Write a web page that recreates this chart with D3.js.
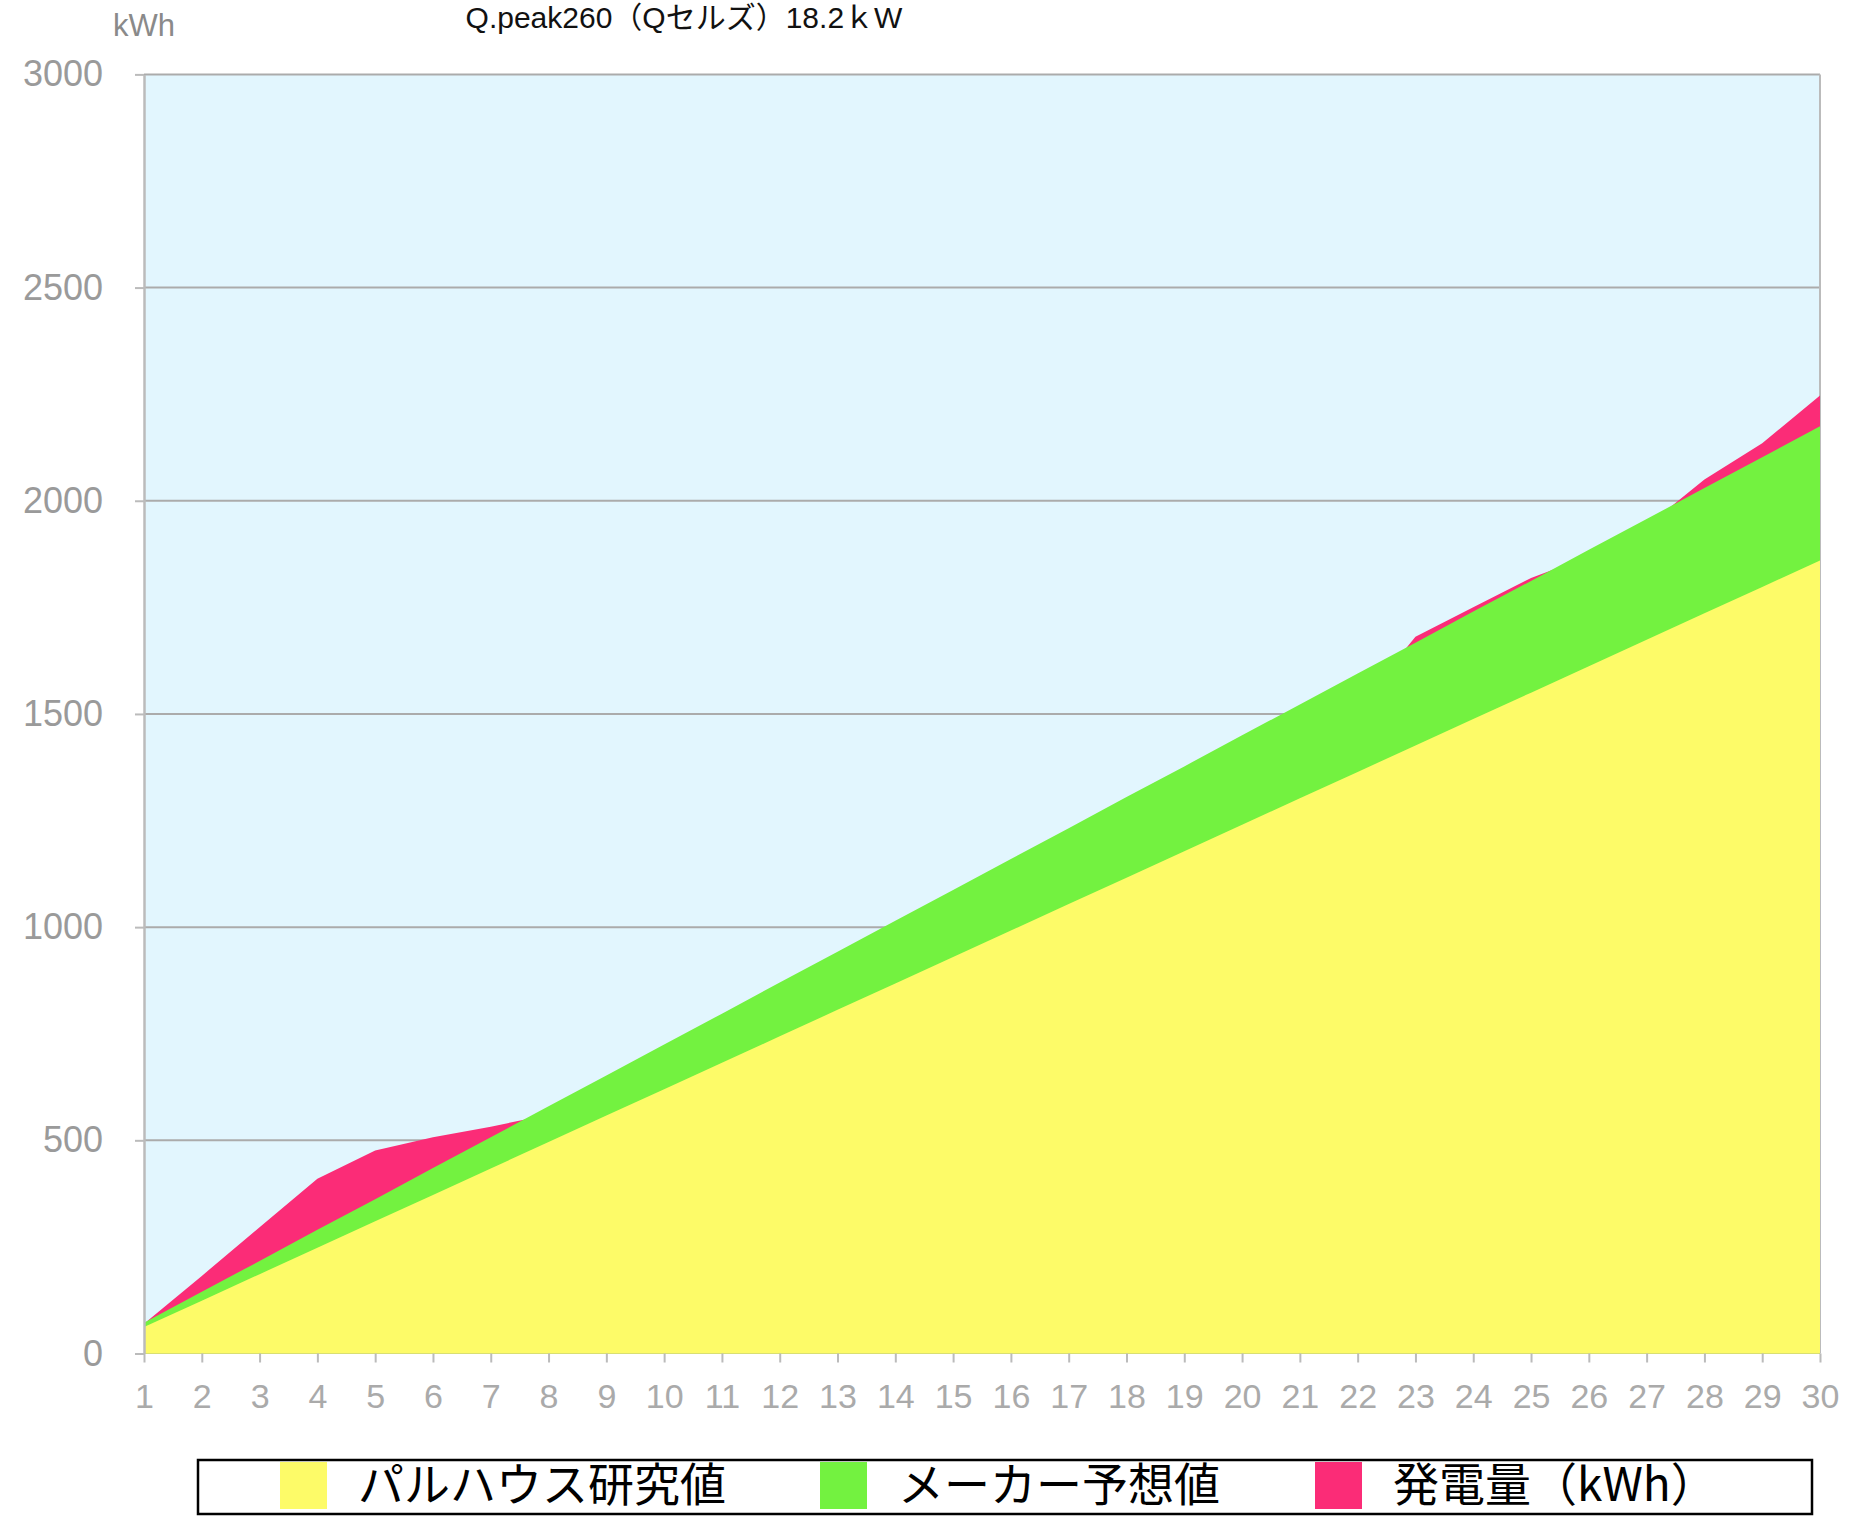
<!DOCTYPE html>
<html>
<head>
<meta charset="utf-8">
<script src="https://cdn.jsdelivr.net/npm/d3@7"></script>
<style>
  body { margin: 0; background: #fff; }
  svg { display: block; }
</style>
</head>
<body>
<div class="grafico"></div>
<script>
// datos (kWh acumulados por dia)
const dias = [1,2,3,4,5,6,7,8,9,10,11,12,13,14,15,16,17,18,19,20,21,22,23,24,25,26,27,28,29,30];
const palhouse = [62,124,186,248,310,372,434,496,558,620,682,744,806,868,930,992,1054,1116,1178,1240,1302,1364,1426,1488,1550,1612,1674,1736,1798,1860];
const maker = [72,145,217,290,362,435,507,580,652,725,797,870,942,1015,1087,1160,1232,1305,1377,1450,1522,1595,1667,1740,1812,1885,1957,2030,2102,2175];
const hatsuden = [70,182,296,410,476,507,532,560,620,690,760,830,880,950,1020,1090,1150,1220,1290,1360,1440,1515,1681,1750,1819,1870,1940,2050,2135,2247];
const yTicks = [0,500,1000,1500,2000,2500,3000];

const series = [
  {name: "発電量（kWh）", values: hatsuden, color: "#fb2c77"},
  {name: "メーカー予想値", values: maker, color: "#73f240"},
  {name: "パルハウス研究値", values: palhouse, color: "#fdfb68"}
];
const legendOrder = [series[2], series[1], series[0]];

const W = 1852, H = 1516;
const margin = {top: 74.4, right: 32, bottom: 162.5, left: 144};
const numFont = "'Helvetica Neue', Helvetica, 'Liberation Sans', Arial, sans-serif";
const jpFont = "'Liberation Sans', 'Noto Sans CJK JP', sans-serif";

const svg = d3.select(".grafico").append("svg")
  .attr("width", W).attr("height", H);

const x = d3.scaleLinear().domain([1, 30]).range([margin.left, W - margin.right]);
const y = d3.scaleLinear().domain([0, 3000]).range([H - margin.bottom, margin.top]);

// fondo del area de grafico
svg.append("rect")
  .attr("x", x(1)).attr("y", y(3000))
  .attr("width", x(30) - x(1)).attr("height", y(0) - y(3000))
  .attr("fill", "#e2f6fe");

// lineas de grilla
svg.append("g").selectAll("line")
  .data(yTicks.filter(d => d > 0))
  .enter().append("line")
  .attr("x1", x(1)).attr("x2", x(30))
  .attr("y1", d => y(d)).attr("y2", d => y(d))
  .attr("stroke", "#ababab").attr("stroke-width", 2);

// borde derecho
svg.append("line")
  .attr("x1", x(30)).attr("x2", x(30))
  .attr("y1", y(3000)).attr("y2", y(0))
  .attr("stroke", "#bbbbbb").attr("stroke-width", 2);

// areas superpuestas
const area = d3.area()
  .x((d, i) => x(dias[i]))
  .y0(y(0))
  .y1(d => y(d));

svg.append("g").selectAll("path")
  .data(series)
  .enter().append("path")
  .attr("d", d => area(d.values))
  .attr("fill", d => d.color);

// ejes
const gx = svg.append("g")
  .attr("transform", "translate(0," + y(0) + ")")
  .call(d3.axisBottom(x).tickValues(dias).tickFormat(d3.format("d")).tickSize(9).tickPadding(21).tickSizeOuter(0));
gx.select(".domain").remove();
gx.selectAll(".tick line").attr("stroke", "#bbbbbb").attr("stroke-width", 2);
gx.selectAll(".tick text")
  .attr("fill", "#aaaaaa")
  .style("font-family", numFont)
  .style("font-size", "34px");

const gy = svg.append("g")
  .attr("transform", "translate(" + x(1) + ",0)")
  .call(d3.axisLeft(y).tickValues(yTicks).tickFormat(d3.format("d")).tickSize(9).tickPadding(32).tickSizeOuter(0));
gy.select(".domain").attr("stroke", "#bbbbbb").attr("stroke-width", 2.5);
gy.selectAll(".tick line").attr("stroke", "#bbbbbb").attr("stroke-width", 2);
gy.selectAll(".tick text")
  .attr("fill", "#9a9a9a")
  .style("font-family", numFont)
  .style("font-size", "36px");

// unidad y titulo
svg.append("text")
  .attr("x", 113).attr("y", 36)
  .attr("fill", "#8a8a8a")
  .style("font-family", numFont)
  .style("font-size", "31px")
  .text("kWh");

svg.append("text")
  .attr("x", 684).attr("y", 28)
  .attr("text-anchor", "middle")
  .attr("fill", "#111")
  .style("font-family", jpFont)
  .style("font-size", "30px")
  .text("Q.peak260（Qセルズ）18.2ｋW");

// leyenda
svg.append("rect")
  .attr("x", 198).attr("y", 1460)
  .attr("width", 1614).attr("height", 54)
  .attr("fill", "#fff")
  .attr("stroke", "#000").attr("stroke-width", 2.5);

const legX = [280, 820, 1315];
const leg = svg.append("g").selectAll("g")
  .data(legendOrder)
  .enter().append("g")
  .attr("transform", (d, i) => "translate(" + legX[i] + ",1462)");
leg.append("rect")
  .attr("width", 47).attr("height", 47)
  .attr("fill", d => d.color);
leg.append("text")
  .attr("x", 78).attr("y", 39)
  .attr("fill", "#000")
  .style("font-family", "'Noto Sans CJK JP', sans-serif")
  .style("font-size", "46px")
  .text(d => d.name);
</script>
</body>
</html>
